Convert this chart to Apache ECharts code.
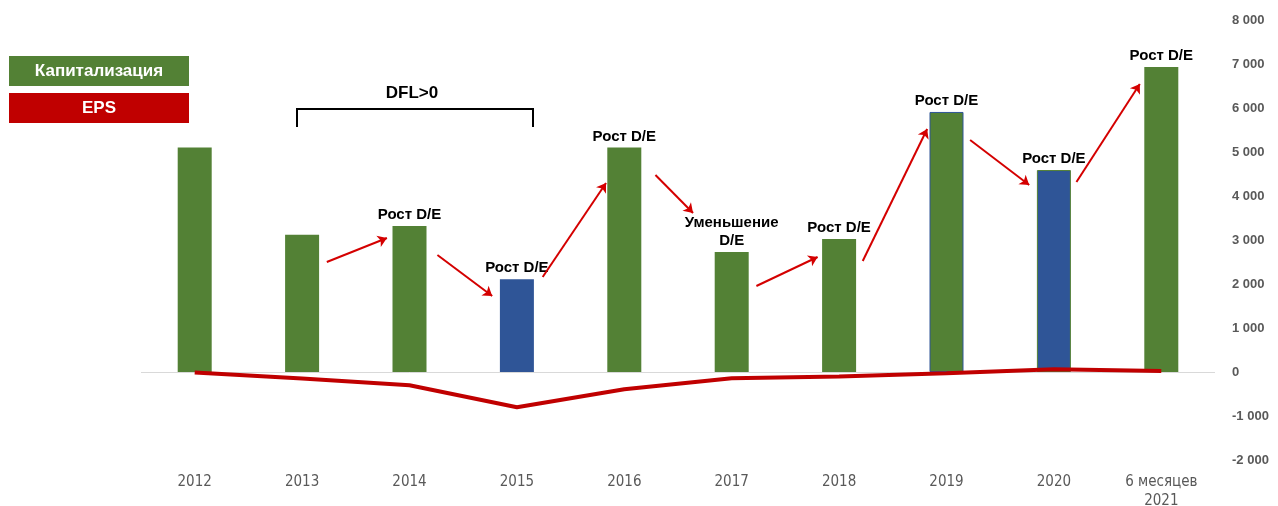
<!DOCTYPE html>
<html>
<head>
<meta charset="utf-8">
<script src="https://cdn.jsdelivr.net/npm/echarts@6/dist/echarts.min.js"></script>
<style>
html,body{margin:0;padding:0;background:#fff;overflow:hidden;}
#chart{width:1278px;height:506px;}
</style>
</head>
<body>
<div id="chart"></div>
<script>
// ---- data ----
var categories = ['2012','2013','2014','2015','2016','2017','2018','2019','2020','6 месяцев\n2021'];
var capitalization = [5100, 3120, 3320, 2110, 5100, 2730, 3020, 5910, 4590, 6930];
var eps = [-10, -150, -300, -800, -390, -140, -100, -30, 60, 20];
var barNotes = ['', '', 'Рост D/E', 'Рост D/E', 'Рост D/E', 'Уменьшение\nD/E', 'Рост D/E', 'Рост D/E', 'Рост D/E', 'Рост D/E'];
var highlightedYears = ['2015', '2020'];
var yTicks = {min: -2000, max: 8000, step: 1000};
// arrows in data space: [xFrom, yFrom, xTo, yTo] (x = category index)
var arrowSegments = [
  [1.23, 2500, 1.79, 3045],
  [2.26, 2660, 2.77, 1727],
  [3.24, 2160, 3.83, 4295],
  [4.29, 4477, 4.64, 3614],
  [5.23, 1955, 5.80, 2614],
  [6.22, 2523, 6.82, 5523],
  [7.22, 5273, 7.77, 4250],
  [8.21, 4318, 8.80, 6545]
];

var GREEN = '#538135', BLUE = '#2F5597', RED = '#C00000';

function fmt(v){
  var s = Math.abs(v).toString().replace(/\B(?=(\d{3})+(?!\d))/g, ' ');
  return (v < 0 ? '-' : '') + s;
}

var barData = capitalization.map(function(v, i){
  var hl = highlightedYears.indexOf(categories[i]) >= 0;
  var item = {value: v, itemStyle: {color: hl ? BLUE : GREEN}};
  if (categories[i] === '2019') { item.itemStyle.borderColor = BLUE; item.itemStyle.borderWidth = 1; }
  if (categories[i] === '2020') { item.itemStyle.borderColor = GREEN; item.itemStyle.borderWidth = 1; }
  return item;
});

var chart = echarts.init(document.getElementById('chart'));
chart.setOption({
  animation: false,
  backgroundColor: '#fff',
  grid: {left: 141, right: 63, top: 20, bottom: 46, containLabel: false, outerBoundsMode: 'none'},
  xAxis: [{
    type: 'category',
    data: categories,
    axisLine: {show: false, onZero: false},
    axisTick: {show: false},
    axisLabel: {
      color: '#595959', fontSize: 15, margin: 13, lineHeight: 19,
      fontFamily: "'Liberation Sans Narrow','DejaVu Sans Condensed',sans-serif"
    }
  }, {
    type: 'value', min: -0.5, max: 9.5, show: false
  }],
  yAxis: {
    type: 'value', position: 'right',
    min: yTicks.min, max: yTicks.max, interval: yTicks.step,
    axisLine: {show: false}, axisTick: {show: false}, splitLine: {show: false},
    axisLabel: {
      color: '#595959', fontSize: 13, fontWeight: 'bold', margin: 17,
      fontFamily: "'Liberation Sans',Arial,sans-serif",
      formatter: fmt
    }
  },
  series: [{
    type: 'bar',
    data: barData,
    barWidth: 34,
    z: 2,
    label: {
      show: true, position: 'top', distance: 2,
      color: '#000', fontSize: 15, fontWeight: 'bold', lineHeight: 18,
      fontFamily: "'Liberation Sans',Arial,sans-serif",
      formatter: function(p){ return barNotes[p.dataIndex]; }
    },
    markLine: {
      silent: true, symbol: 'none', z: 1,
      label: {show: false},
      lineStyle: {color: '#d9d9d9', width: 1, type: 'solid'},
      data: [{yAxis: 0}]
    }
  }, {
    type: 'line',
    data: eps,
    z: 4,
    symbol: 'none',
    lineStyle: {color: RED, width: 4}
  }, {
    type: 'lines',
    coordinateSystem: 'cartesian2d',
    xAxisIndex: 1,
    z: 5,
    symbol: ['none', 'arrow'],
    symbolSize: 9,
    lineStyle: {color: '#D40000', width: 2, opacity: 1},
    data: arrowSegments.map(function(a){ return {coords: [[a[0], a[1]], [a[2], a[3]]]}; })
  }],
  graphic: [
    {type: 'rect', left: 9, top: 56, shape: {width: 180, height: 30}, style: {fill: GREEN}},
    {type: 'text', x: 99, y: 71, style: {text: 'Капитализация', fill: '#fff', font: "bold 17px 'Liberation Sans',Arial,sans-serif", textAlign: 'center', textVerticalAlign: 'middle'}},
    {type: 'rect', left: 9, top: 93, shape: {width: 180, height: 30}, style: {fill: RED}},
    {type: 'text', x: 99, y: 108, style: {text: 'EPS', fill: '#fff', font: "bold 17px 'Liberation Sans',Arial,sans-serif", textAlign: 'center', textVerticalAlign: 'middle'}},
    {type: 'polyline', shape: {points: [[297,127],[297,109],[533,109],[533,127]]}, style: {stroke: '#000', lineWidth: 2, fill: null}},
    {type: 'text', x: 412, y: 93, style: {text: 'DFL>0', fill: '#000', font: "bold 17px 'Liberation Sans',Arial,sans-serif", textAlign: 'center', textVerticalAlign: 'middle'}}
  ]
});
</script>
</body>
</html>
